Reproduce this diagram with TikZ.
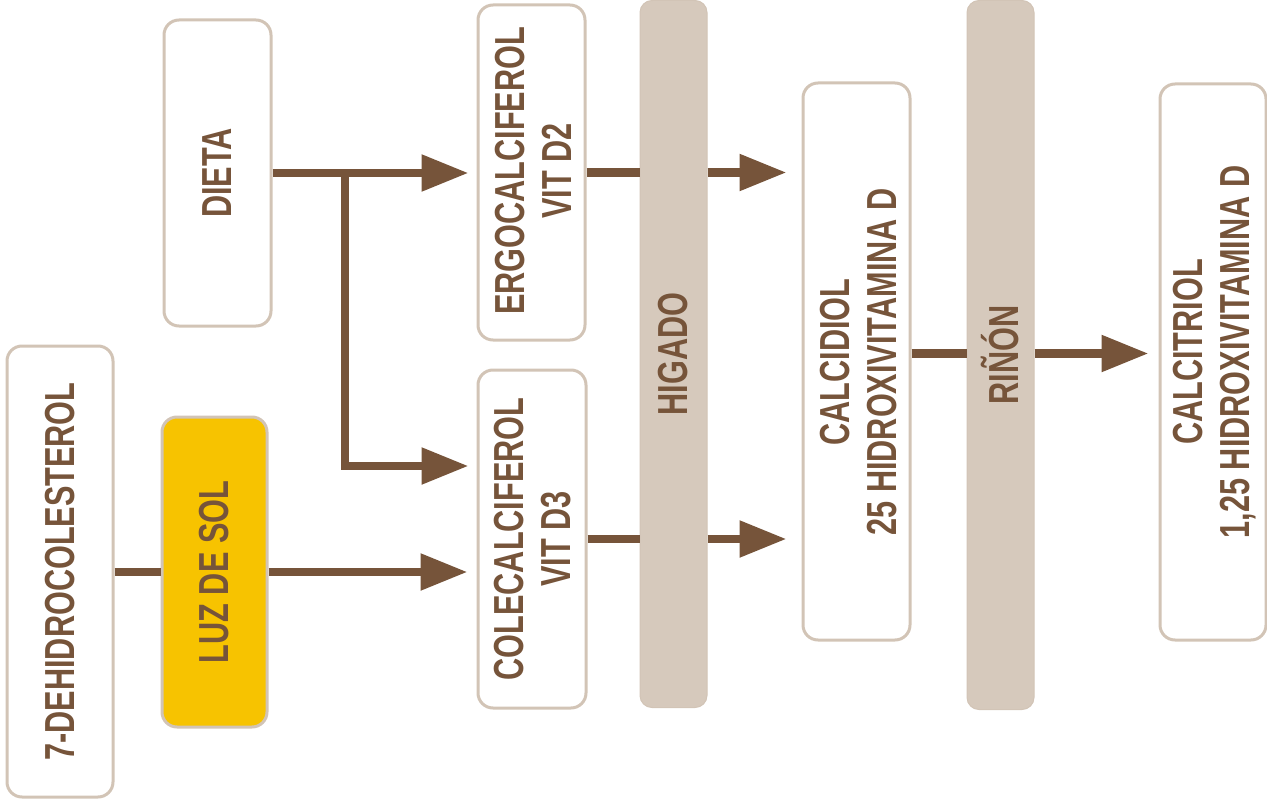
\documentclass[tikz,border=0pt]{standalone}
\usepackage{fontspec}
\newfontfamily\condfont{Liberation Sans}[FakeStretch=0.73,BoldFeatures={FakeStretch=0.73}]
\usetikzlibrary{arrows.meta}
\definecolor{brn}{HTML}{76543A}
\definecolor{bge}{HTML}{D6C9BC}
\definecolor{bgeline}{HTML}{D2C4B6}
\definecolor{sun}{HTML}{F7C300}
\tikzset{
  box/.style={draw=bgeline, line width=3pt, fill=white, rounded corners=15pt, inner sep=0pt},
  sunbox/.style={box, fill=sun},
  bar/.style={draw=bgeline, line width=1pt, fill=bge, rounded corners=12pt, inner sep=0pt},
  lbl/.style={rotate=90, text=brn, align=center, inner sep=0pt, font={\condfont\bfseries\fontsize{42}{47}\selectfont}},
  conn/.style={draw=brn, line width=8.5pt},
  arr/.style={conn, -{Triangle[length=47pt,width=35pt]}}
}
\begin{document}
\begin{tikzpicture}[x=1pt,y=-1pt]
\useasboundingbox (0,0) rectangle (1267,808);
% bars
\node[bar, minimum width=67pt, minimum height=707pt] (hig) at (673.5,354) {};
\node[bar, minimum width=67pt, minimum height=709pt] (rin) at (1000.5,355) {};
% boxes
\node[box, minimum width=106pt, minimum height=451pt] (deh) at (60,571.5) {};
\node[sunbox, minimum width=105pt, minimum height=310pt] (luz) at (214.5,572) {};
\node[box, minimum width=107pt, minimum height=306pt] (die) at (217.5,173) {};
\node[box, minimum width=107pt, minimum height=335pt] (erg) at (531.5,172.5) {};
\node[box, minimum width=108pt, minimum height=338pt] (col) at (532,539) {};
\node[box, minimum width=107pt, minimum height=557pt] (cdl) at (856.5,361.5) {};
\node[box, minimum width=106pt, minimum height=556pt] (ctr) at (1213,362) {};
% labels
\node[lbl] (tdeh) at (deh.center) {7-DEHIDROCOLESTEROL};
\node[lbl] (tluz) at (luz.center) {LUZ DE SOL};
\node[lbl] (tdie) at (die.center) {DIETA};
\node[lbl] (terg) at (533,171) {ERGOCALCIFEROL\\VIT D2};
\node[lbl] (tcol) at (533,539) {COLECALCIFEROL\\VIT D3};
\node[lbl] (thig) at (673.5,354) {HIGADO};
\node[lbl] (tcdl) at (859,362) {CALCIDIOL\\25 HIDROXIVITAMINA D};
\node[lbl] (trin) at (1000.5,355) {RIÑÓN};
\node[lbl] (tctr) at (1215,352) {CALCITRIOL\\1,25 HIDROXIVITAMINA D};
% connectors
\coordinate (j) at (349,173);
\draw[conn] (deh.east |- luz.east) -- (luz.west);
\draw[arr, shorten >=9pt] (luz.east) -- (luz.east -| col.west);
\draw[arr, shorten >=8pt] (die.east) -- (die.east -| erg.west);
\draw[arr, shorten >=8pt] ([xshift=-4.25pt]j) |- ([yshift=73pt]col.west);
\draw[conn] (erg.east) -- (erg.east -| hig.west);
\draw[arr, shorten >=15pt] (erg.east -| hig.east) -- (erg.east -| cdl.west);
\draw[conn] (col.east) -- (col.east -| hig.west);
\draw[arr, shorten >=15pt] (col.east -| hig.east) -- (col.east -| cdl.west);
\draw[conn] ([yshift=8pt]cdl.east) -- ([yshift=8pt]cdl.east -| rin.west);
\draw[arr, shorten >=10pt] ([yshift=8pt]cdl.east -| rin.east) -- ([yshift=8pt]cdl.east -| ctr.west);
\end{tikzpicture}
\end{document}
